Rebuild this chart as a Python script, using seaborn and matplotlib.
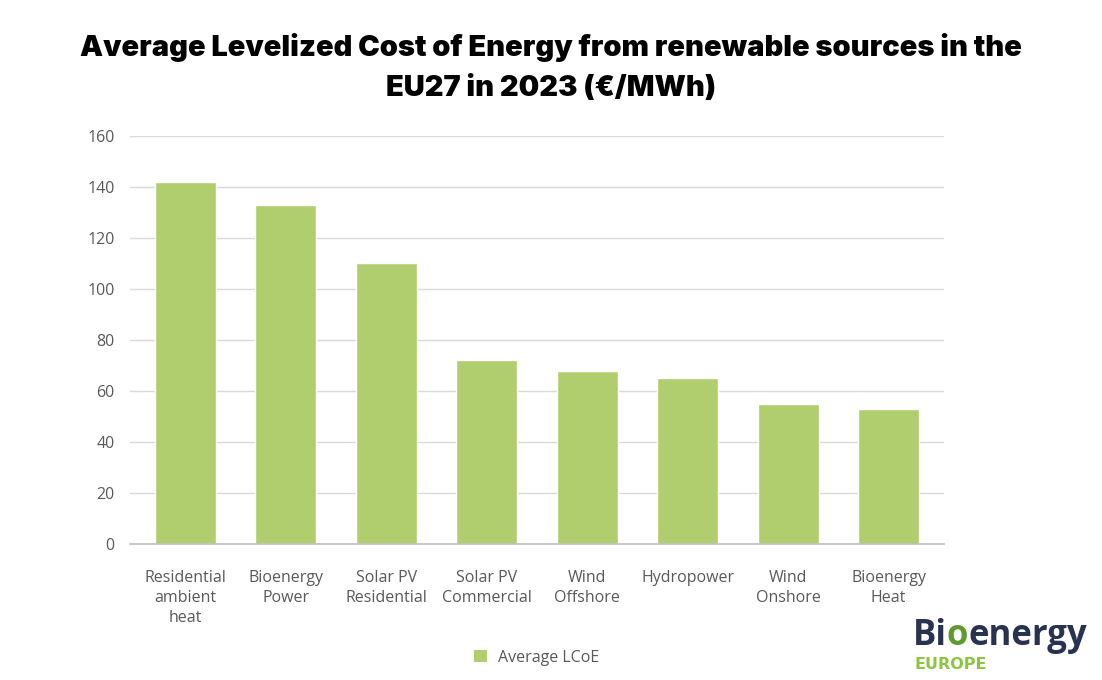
import matplotlib
matplotlib.use("Agg")
import matplotlib.pyplot as plt
import seaborn as sns
import pandas as pd
from matplotlib.patches import Patch

categories = ["Residential\nambient\nheat", "Bioenergy\nPower", "Solar PV\nResidential",
              "Solar PV\nCommercial", "Wind\nOffshore", "Hydropower", "Wind\nOnshore",
              "Bioenergy\nHeat"]
values = [142, 133, 110, 72, 68, 65, 55, 53]
series_name = "Average LCoE"
yticks = [0, 20, 40, 60, 80, 100, 120, 140, 160]

sns.set_theme(style="white")
plt.rcParams['font.family'] = ['Open Sans', 'DejaVu Sans']

bar_color = "#b0ce6d"
text_gray = "#595959"

df = pd.DataFrame({"cat": categories, "val": values, "series": series_name})

fig = plt.figure(figsize=(11.02, 6.8), dpi=100)
ax = fig.add_axes([130 / 1102, 0.2, 814 / 1102, 0.6])

sns.barplot(data=df, x="cat", y="val", hue="series", palette=[bar_color],
            width=0.607, ax=ax, legend=False, saturation=1)

ax.set_ylim(0, 160)
ax.set_yticks(yticks)
ax.set_xlim(-0.5526, 7.5526)
ax.set_xlabel("")
ax.set_ylabel("")
ax.yaxis.grid(True, color="#d9d9d9", linewidth=1)
ax.set_axisbelow(True)
for s in ["top", "right", "left"]:
    ax.spines[s].set_visible(False)
ax.spines["bottom"].set_color("#bfbfbf")
ax.spines["bottom"].set_linewidth(1.2)
ax.tick_params(axis="both", length=0, labelsize=11.5, colors=text_gray)
ax.tick_params(axis="x", pad=19)
ax.tick_params(axis="y", pad=11)
for lab in ax.get_xticklabels():
    lab.set_linespacing(1.3)

fig.text(0.5, 0.9007, "Average Levelized Cost of Energy from renewable sources in the\nEU27 in 2023 (€/MWh)",
         ha="center", va="center", fontsize=20.9, fontweight=900, color="black",
         linespacing=1.62, family=["Inter", "DejaVu Sans"])

handles = [Patch(facecolor=bar_color, edgecolor="none", label=series_name)]
fig.legend(handles=handles, loc="center", bbox_to_anchor=(0.487, 0.033), frameon=False,
           fontsize=11.5, labelcolor=text_gray, handlelength=0.8, handleheight=0.8,
           handletextpad=0.7)

# logo as text, pieces placed one after another
fig.canvas.draw()
renderer = fig.canvas.get_renderer()
x = 913 / 1102
ybase = 1 - 645 / 680
for piece, col in [("Bi", "#283350"), ("o", "#5e9a2c"), ("energy", "#283350")]:
    t = fig.text(x, ybase, piece, fontsize=25, fontweight="bold", color=col,
                 ha="left", va="baseline", family=["Open Sans", "DejaVu Sans"])
    bb = t.get_window_extent(renderer=renderer)
    x = bb.x1 / (fig.dpi * fig.get_figwidth())
fig.text(914 / 1102, 1 - 669 / 680, "EUROPE", fontsize=11.5, fontweight="bold", color="#8cc63f",
         ha="left", va="baseline", family=["DejaVu Sans"])

fig.savefig("out.png", dpi=100, facecolor="white")
